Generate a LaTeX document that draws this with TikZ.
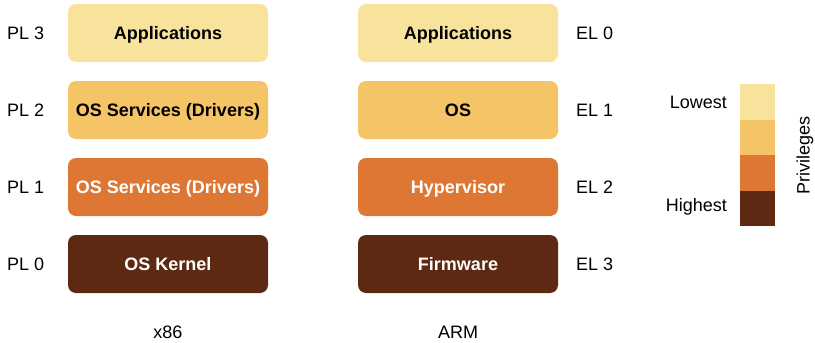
\documentclass[tikz,border=0pt]{standalone}
\usepackage{fontspec}
\setmainfont{Liberation Sans}
\definecolor{cA}{HTML}{F8E39D}
\definecolor{cB}{HTML}{F4C466}
\definecolor{cC}{HTML}{DD7733}
\definecolor{cD}{HTML}{5E2912}
\tikzset{
  layer/.style={rounded corners=8pt, minimum width=200pt, minimum height=58pt, inner sep=0pt, text depth=0pt, font=\fontsize{18}{20}\selectfont\bfseries},
  lvl/.style={font=\fontsize{18}{20}\selectfont, inner sep=0pt},
  legbox/.style={minimum width=35pt, minimum height=35.5pt, inner sep=0pt, draw=none}
}
\begin{document}
\begin{tikzpicture}[x=1pt,y=-1pt]
\useasboundingbox (0,0) rectangle (815,343);
% x86 column
\node[layer, fill=cA, text=black] (x3) at (168,33) {Applications};
\node[layer, fill=cB, text=black] (x2) at (168,110) {OS Services (Drivers)};
\node[layer, fill=cC, text=white] (x1) at (168,187) {OS Services (Drivers)};
\node[layer, fill=cD, text=white] (x0) at (168,264) {OS Kernel};
\node[lvl, anchor=west] (pl3) at (7,33) {PL 3};
\node[lvl, anchor=west] (pl2) at (7,110) {PL 2};
\node[lvl, anchor=west] (pl1) at (7,187) {PL 1};
\node[lvl, anchor=west] (pl0) at (7,264) {PL 0};
\node[lvl] (x86) at (168,332) {x86};
% ARM column
\node[layer, fill=cA, text=black] (a0) at (458,33) {Applications};
\node[layer, fill=cB, text=black] (a1) at (458,110) {OS};
\node[layer, fill=cC, text=white] (a2) at (458,187) {Hypervisor};
\node[layer, fill=cD, text=white] (a3) at (458,264) {Firmware};
\node[lvl, anchor=west] (el0) at (576,33) {EL 0};
\node[lvl, anchor=west] (el1) at (576,110) {EL 1};
\node[lvl, anchor=west] (el2) at (576,187) {EL 2};
\node[lvl, anchor=west] (el3) at (576,264) {EL 3};
\node[lvl] (arm) at (458,332) {ARM};
% legend
\node[legbox, fill=cA, anchor=north west] (l1) at (740,84) {};
\node[legbox, fill=cB, anchor=north west] (l2) at (740,119.5) {};
\node[legbox, fill=cC, anchor=north west] (l3) at (740,155) {};
\node[legbox, fill=cD, anchor=north west] (l4) at (740,190.5) {};
\node[lvl, anchor=east] (low) at (727,102) {Lowest};
\node[lvl, anchor=east] (high) at (727,207) {Highest};
\node[lvl, rotate=90] (priv) at (805,155) {Privileges};
\end{tikzpicture}
\end{document}
